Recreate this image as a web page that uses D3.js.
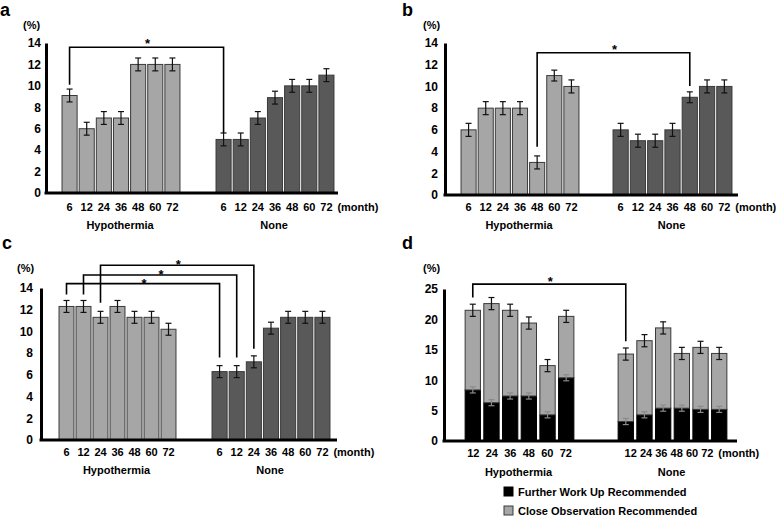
<!DOCTYPE html>
<html><head><meta charset="utf-8">
<script src="https://cdn.jsdelivr.net/npm/d3@7"></script>
<style>
html,body{margin:0;padding:0;background:#fff;}
svg{display:block;font-family:"Liberation Sans",Arial,sans-serif;font-weight:bold;}
</style></head>
<body>
<svg id="chart" width="778" height="517"></svg>
<script>
// ---------- DATA ----------
const groups = ["Hypothermia", "None"];
const months = ["6", "12", "24", "36", "48", "60", "72"];
const monthsD = ["12", "24", "36", "48", "60", "72"];
const yTicks14 = [0, 2, 4, 6, 8, 10, 12, 14];
const yTicks25 = [0, 5, 10, 15, 20, 25];

// panel a
const aHypo = [9.1, 6.0, 7.0, 7.0, 12.0, 12.0, 12.0];
const aNone = [5.0, 5.0, 7.0, 8.9, 10.0, 10.0, 11.0];
const aHypoErr = [0.6, 0.6, 0.6, 0.6, 0.6, 0.6, 0.6];
const aNoneErr = [0.6, 0.6, 0.6, 0.6, 0.6, 0.6, 0.6];
// [hypo month, none month, top, left end, right end] (data units)
const aBrackets = [["6", "6", 13.6, 10.1, 5.6]];

// panel b
const bHypo = [6.0, 8.0, 8.0, 8.0, 3.0, 11.0, 10.0];
const bNone = [6.0, 5.0, 5.0, 6.0, 9.0, 10.0, 10.0];
const bHypoErr = [0.6, 0.6, 0.6, 0.6, 0.6, 0.5, 0.6];
const bNoneErr = [0.6, 0.6, 0.6, 0.6, 0.5, 0.6, 0.6];
const bBrackets = [["48", "48", 13.1, 4.45, 10.05]];

// panel c
const cHypo = [12.3, 12.3, 11.3, 12.3, 11.3, 11.3, 10.2];
const cNone = [6.3, 6.3, 7.2, 10.3, 11.3, 11.3, 11.3];
const cHypoErr = [0.55, 0.55, 0.55, 0.55, 0.55, 0.55, 0.55];
const cNoneErr = [0.55, 0.55, 0.55, 0.55, 0.55, 0.55, 0.55];
const cBrackets = [
  ["6", "6", 14.4, 13.4, 7.6],
  ["12", "12", 15.2, 13.4, 7.6],
  ["24", "24", 16.1, 12.65, 8.4]
];

// panel d (stacked)
const dSeries = ["Further Work Up Recommended", "Close Observation Recommended"];
const dHypoFurther = [8.4, 6.3, 7.4, 7.4, 4.3, 10.4];
const dHypoClose = [13.1, 16.3, 14.1, 12.0, 8.1, 10.1];
const dNoneFurther = [3.2, 4.3, 5.4, 5.4, 5.2, 5.2];
const dNoneClose = [11.1, 12.2, 13.2, 9.0, 10.2, 9.2];
const dFurtherErr = [0.5, 0.5, 0.5, 0.5, 0.5, 0.5];
const dTotalErr = [1.0, 1.0, 1.0, 1.0, 1.0, 1.0];
const dBrackets = [["12", "12", 25.8, 23.6, 16.4]];

// ---------- STYLE ----------
const LIGHT = "#a6a6a6", DARK = "#595959", BLACK = "#000", EDGE = "#3a3a3a";
const svg = d3.select("#chart");

function drawPanel(p) {
  const g = svg.append("g");
  const y = d3.scaleLinear().domain([0, p.yMax]).range(p.yRange);
  const xs = [
    d3.scaleBand().domain(p.cats).range(p.hRange).paddingInner(p.padIn).paddingOuter(0.06),
    d3.scaleBand().domain(p.cats).range(p.nRange).paddingInner(p.padIn).paddingOuter(0.06)
  ];
  const labelXs = p.labelRanges ? p.labelRanges.map(r => d3.scaleBand().domain(p.cats).range(r)) : xs;

  // panel letter and unit
  g.append("text").attr("x", p.letterX).attr("y", p.letterY).attr("font-size", 18).text(p.letter);
  g.append("text").attr("x", p.pctX).attr("y", p.pctY).attr("font-size", 11).text("(%)");

  // y axis
  const ya = g.append("g").attr("transform", `translate(${p.axisX},0)`)
    .call(d3.axisLeft(y).tickValues(p.ticks).tickSize(0).tickPadding(p.tickPad).tickSizeOuter(0));
  ya.select(".domain").attr("stroke", "#000").attr("stroke-width", 3);
  ya.selectAll("text").attr("font-size", 12).attr("font-weight", "bold")
    .attr("font-family", "Liberation Sans, Arial, sans-serif").attr("fill", "#000");

  // bars
  p.series.forEach((s, gi) => {
    const x = xs[gi];
    if (!p.stacked) {
      const rows = p.cats.map((c, i) => ({c, v: s.vals[i], e: s.errs[i]}));
      g.selectAll(null).data(rows).enter().append("rect")
        .attr("x", d => x(d.c)).attr("width", x.bandwidth())
        .attr("y", d => y(d.v)).attr("height", d => y(0) - y(d.v))
        .attr("fill", s.color).attr("stroke", EDGE).attr("stroke-width", 1);
      drawErr(g, rows, x, y, d => d.v, d => d.e, "#111");
    } else {
      const rows = p.cats.map((c, i) => ({c, further: s.further[i], close: s.close[i], i}));
      const stack = d3.stack().keys(["further", "close"])(rows);
      const fills = [BLACK, LIGHT];
      stack.forEach((layer, li) => {
        g.selectAll(null).data(layer).enter().append("rect")
          .attr("x", d => x(d.data.c)).attr("width", x.bandwidth())
          .attr("y", d => y(d[1])).attr("height", d => y(d[0]) - y(d[1]))
          .attr("fill", fills[li]).attr("stroke", li === 0 ? BLACK : EDGE).attr("stroke-width", 1);
      });
      drawErr(g, rows, x, y, d => d.further + d.close, d => dTotalErr[d.i], "#111");
      drawErr(g, rows, x, y, d => d.further, d => dFurtherErr[d.i], "#8a8a8a");
    }
  });

  // x axis line
  g.append("line").attr("x1", p.axisX - 1.5).attr("x2", p.axisEnd)
    .attr("y1", y(0)).attr("y2", y(0)).attr("stroke", "#000").attr("stroke-width", 3);

  // x tick labels
  labelXs.forEach((lx, gi) => {
    const xa = g.append("g").attr("transform", `translate(0,${y(0)})`)
      .call(d3.axisBottom(lx).tickSize(0).tickPadding(p.xPad));
    xa.select(".domain").remove();
    xa.selectAll("text").attr("font-size", 11).attr("font-weight", "bold")
      .attr("font-family", "Liberation Sans, Arial, sans-serif").attr("fill", "#000");
    const r = xs[gi].range();
    g.append("text").attr("x", (r[0] + r[1]) / 2 - 1).attr("y", y(0) + p.groupDy)
      .attr("text-anchor", "middle").attr("font-size", 11).text(groups[gi]);
  });
  const last = labelXs[1];
  g.append("text").attr("x", last(p.cats[p.cats.length - 1]) + last.bandwidth() / 2 + p.monthDx)
    .attr("y", y(0) + p.xPad + 8).attr("font-size", 11).text("(month)");

  // significance brackets
  p.brackets.forEach(b => {
    const lx = xs[0](b[0]) + xs[0].bandwidth() / 2;
    const rx = xs[1](b[1]) + xs[1].bandwidth() / 2;
    const path = d3.path();
    path.moveTo(lx, y(b[3])); path.lineTo(lx, y(b[2])); path.lineTo(rx, y(b[2])); path.lineTo(rx, y(b[4]));
    g.append("path").attr("d", path.toString()).attr("fill", "none")
      .attr("stroke", "#000").attr("stroke-width", 1.6);
    g.append("text").attr("x", (lx + rx) / 2 + 1).attr("y", y(b[2]) + p.starDy)
      .attr("text-anchor", "middle").attr("font-size", 13).text("*");
  });
  return {g, y, xs};
}

function drawErr(g, rows, x, y, val, err, color) {
  const cx = d => x(d.c) + x.bandwidth() / 2;
  const eg = g.append("g").attr("stroke", color).attr("stroke-width", 1.2);
  eg.selectAll(null).data(rows).enter().append("line")
    .attr("x1", cx).attr("x2", cx).attr("y1", d => y(val(d) - err(d))).attr("y2", d => y(val(d) + err(d)));
  [-1, 1].forEach(sgn => {
    eg.selectAll(null).data(rows).enter().append("line")
      .attr("x1", d => cx(d) - 3).attr("x2", d => cx(d) + 3)
      .attr("y1", d => y(val(d) + sgn * err(d))).attr("y2", d => y(val(d) + sgn * err(d)));
  });
}

drawPanel({letter: "a", letterX: 0, letterY: 16, pctX: 23, pctY: 29,
  yMax: 14, yRange: [193, 43], ticks: yTicks14, axisX: 46, axisEnd: 338, tickPad: 5,
  cats: months, hRange: [61, 181], nRange: [215, 335], padIn: 0.12, xPad: 10, groupDy: 36, monthDx: 11,
  series: [{vals: aHypo, errs: aHypoErr, color: LIGHT}, {vals: aNone, errs: aNoneErr, color: DARK}],
  brackets: aBrackets, starDy: 1});

drawPanel({letter: "b", letterX: 402, letterY: 16, pctX: 423, pctY: 29,
  yMax: 14, yRange: [195, 43], ticks: yTicks14, axisX: 445, axisEnd: 738, tickPad: 7,
  cats: months, hRange: [460, 580], nRange: [612, 733], padIn: 0.12, xPad: 8, groupDy: 34, monthDx: 11,
  series: [{vals: bHypo, errs: bHypoErr, color: LIGHT}, {vals: bNone, errs: bNoneErr, color: DARK}],
  brackets: bBrackets, starDy: 1});

drawPanel({letter: "c", letterX: 2, letterY: 249, pctX: 17, pctY: 272,
  yMax: 14, yRange: [440, 288], ticks: yTicks14, axisX: 41, axisEnd: 337, tickPad: 8,
  cats: months, hRange: [58, 177], nRange: [211, 331], padIn: 0.12, xPad: 8, groupDy: 34, monthDx: 11,
  series: [{vals: cHypo, errs: cHypoErr, color: LIGHT}, {vals: cNone, errs: cNoneErr, color: DARK}],
  brackets: cBrackets, starDy: 4});

drawPanel({letter: "d", letterX: 402, letterY: 249, pctX: 423, pctY: 272,
  yMax: 25, yRange: [441, 289], ticks: yTicks25, axisX: 444, axisEnd: 737, tickPad: 6,
  cats: monthsD, hRange: [464, 575], nRange: [617, 728], padIn: 0.18, xPad: 8, groupDy: 35, monthDx: 11,
  labelRanges: [[464, 575], [623, 715]],
  series: [{further: dHypoFurther, close: dHypoClose}, {further: dNoneFurther, close: dNoneClose}],
  stacked: true, brackets: dBrackets, starDy: 2});

// legend for panel d
const legend = svg.append("g").attr("transform", "translate(504,487)");
const legFills = [BLACK, LIGHT];
const rowsL = legend.selectAll(null).data(dSeries).enter().append("g")
  .attr("transform", (d, i) => `translate(0,${i * 19})`);
rowsL.append("rect").attr("width", 9).attr("height", 9)
  .attr("fill", (d, i) => legFills[i]).attr("stroke", (d, i) => i === 0 ? BLACK : EDGE).attr("stroke-width", 1);
rowsL.append("text").attr("x", 14).attr("y", 9).attr("font-size", 11).text(d => d);
</script>
</body></html>
